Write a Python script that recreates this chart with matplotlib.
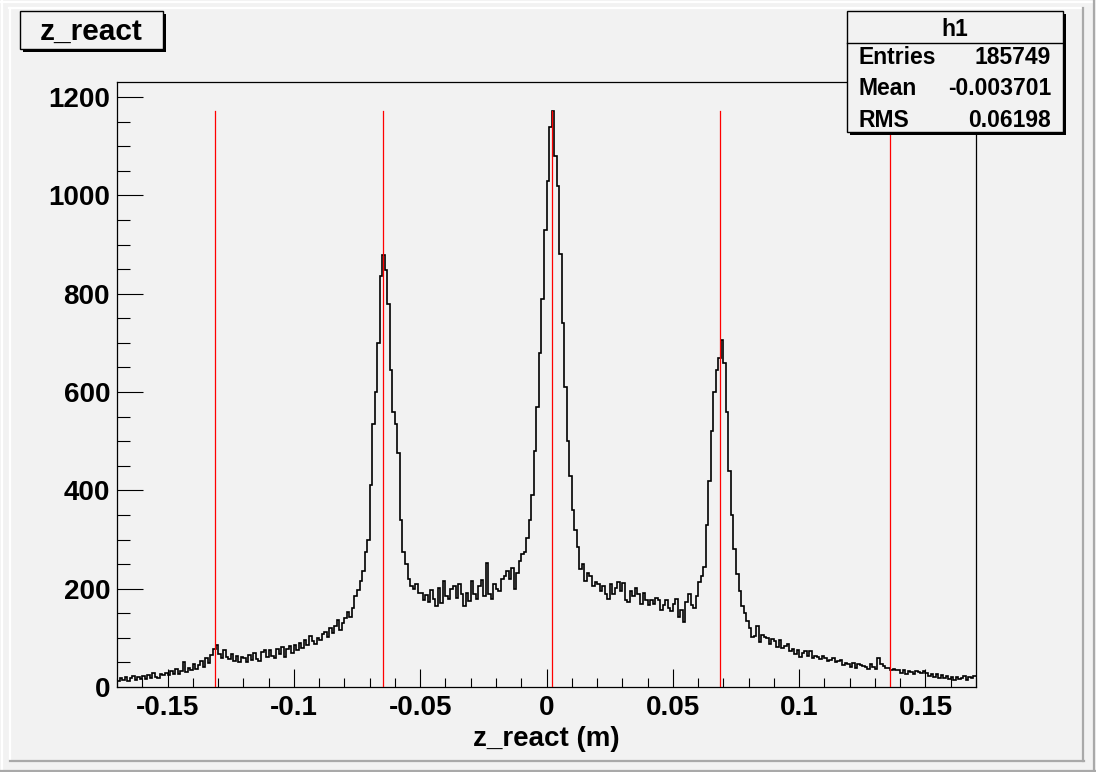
import numpy as np
import matplotlib
matplotlib.use("Agg")
import matplotlib.pyplot as plt
from matplotlib.ticker import MultipleLocator, FuncFormatter
from matplotlib.patches import Rectangle
from matplotlib.lines import Line2D

# histogram h1 : z_react, 340 bins from -0.17 to 0.17 (one row = 0.01 in z)
z_min, z_max = -0.17, 0.17
counts = [
    12, 18, 14, 20, 13, 19, 22, 15, 21, 17,            # -0.17
    23, 16, 25, 19, 28, 21, 18, 27, 24, 29,            # -0.16
    25, 33, 27, 36, 26, 32, 50, 30, 38, 34,            # -0.15
    47, 36, 44, 52, 40, 60, 48, 65, 78, 86,            # -0.14
    68, 60, 75, 62, 56, 68, 52, 64, 50, 62,            # -0.13
    58, 50, 65, 54, 70, 57, 52, 72, 76, 62,            # -0.12
    75, 64, 60, 78, 68, 82, 62, 77, 84, 70,            # -0.11
    85, 76, 90, 80, 96, 86, 104, 94, 88, 100,          # -0.10
    95, 108, 112, 102, 120, 110, 125, 136, 115, 130,   # -0.09
    140, 153, 143, 160, 185, 198, 215, 235, 275, 300,  # -0.08
    410, 535, 600, 700, 835, 878, 848, 780, 645, 560,  # -0.07
    535, 475, 340, 275, 250, 220, 205, 200, 210, 192,  # -0.06
    192, 176, 188, 172, 198, 180, 165, 202, 170, 215,  # -0.05
    186, 178, 200, 206, 182, 210, 190, 164, 192, 175,  # -0.04
    216, 190, 178, 205, 218, 186, 252, 190, 180, 210,  # -0.03
    200, 195, 220, 226, 236, 220, 242, 200, 232, 256,  # -0.02
    270, 275, 304, 340, 390, 480, 570, 680, 790, 930,  # -0.01
    1030, 1140, 1172, 1080, 1020, 880, 740, 610, 500, 430,  # 0.00
    360, 320, 285, 240, 250, 215, 232, 225, 206, 214,  # 0.01
    210, 196, 206, 190, 180, 210, 190, 202, 214, 196,  # 0.02
    212, 176, 172, 196, 186, 202, 190, 168, 192, 176,  # 0.03
    166, 176, 168, 182, 176, 156, 166, 176, 160, 154,  # 0.04
    168, 178, 142, 156, 132, 172, 190, 166, 160, 186,  # 0.05
    214, 225, 245, 330, 420, 520, 600, 645, 670, 705,  # 0.06
    660, 560, 440, 350, 280, 230, 195, 165, 150, 135,  # 0.07
    120, 102, 104, 124, 92, 106, 102, 100, 88, 98,     # 0.08
    94, 82, 96, 80, 84, 88, 74, 78, 68, 76,            # 0.09
    62, 70, 74, 63, 73, 60, 64, 61, 56, 64,            # 0.10
    60, 52, 55, 58, 51, 52, 55, 45, 48, 47,            # 0.11
    40, 48, 38, 46, 44, 43, 41, 37, 47, 40,            # 0.12
    36, 58, 46, 43, 38, 38, 35, 37, 34, 35,            # 0.13
    29, 35, 27, 33, 31, 26, 33, 31, 28, 32,            # 0.14
    28, 22, 27, 21, 26, 19, 24, 18, 22, 17,            # 0.15
    20, 15, 21, 16, 19, 22, 15, 21, 18, 23,            # 0.16
]

# red marker lines (z positions)
markers = [-0.1313, -0.0648, 0.0021, 0.0687, 0.1361]

stat_labels = ["Entries", "Mean", "RMS"]
stat_values = ["185749", "-0.003701", "0.06198"]

W, H = 1096, 772
bg = "#f2f2f2"
font = "Liberation Sans"
plt.rcParams["font.family"] = [font, "DejaVu Sans"]
plt.rcParams["axes.unicode_minus"] = False


def fx(x):
    return x / W


def fy(y):
    return 1 - y / H


fig = plt.figure(figsize=(W / 100, H / 100), dpi=100, facecolor=bg)

# canvas bevels
for (x0, y0, x1, y1, c) in [
    (0, 1.5, 1094, 1.5, "white"), (1.5, 0, 1.5, 771, "white"),
    (1094, 0, 1094, 771, "#a9a9a9"), (0, 771, 1096, 771, "#a9a9a9"),
    (9, 8, 1083, 8, "white"), (10, 8, 10, 761, "white"),
    (1083, 8, 1083, 761, "#a9a9a9"), (10, 761, 1084, 761, "#a9a9a9"),
]:
    fig.add_artist(Line2D([fx(x0), fx(x1)], [fy(y0), fy(y1)], color=c, lw=1.6,
                          transform=fig.transFigure))

ax = fig.add_axes([fx(117), fy(687), (976 - 117) / W, (687 - 82) / H])
ax.set_facecolor(bg)

counts = np.array(counts)
edges = np.linspace(z_min, z_max, len(counts) + 1)
ax.stairs(counts, edges, color="black", lw=1.2, baseline=None, zorder=2)

top = counts.max()
for m in markers:
    ax.plot([m, m], [0, top], color="red", lw=0.9, zorder=3)

ax.set_xlim(z_min, z_max)
ax.set_ylim(0, 1.05 * top)

ax.xaxis.set_major_locator(MultipleLocator(0.05))
ax.xaxis.set_minor_locator(MultipleLocator(0.01))
ax.yaxis.set_major_locator(MultipleLocator(200))
ax.yaxis.set_minor_locator(MultipleLocator(50))
ax.xaxis.set_major_formatter(FuncFormatter(lambda v, p: "%g" % round(v, 3) if abs(v) > 1e-9 else "0"))

ax.tick_params(axis="x", which="major", direction="in", length=13, width=0.8, pad=6,
               labelsize=20, top=False)
ax.tick_params(axis="x", which="minor", direction="in", length=6.5, width=0.8, top=False)
ax.tick_params(axis="y", which="major", direction="in", length=18.5, width=0.8, pad=5,
               labelsize=20, right=False)
ax.tick_params(axis="y", which="minor", direction="in", length=9.3, width=0.8, right=False)
for lab in ax.get_xticklabels() + ax.get_yticklabels():
    lab.set_fontweight("bold")
for s in ax.spines.values():
    s.set_linewidth(0.9)

fig.text(fx(546), fy(746), "z_react (m)", ha="center", va="baseline",
         fontsize=20, fontweight="bold")

# title box
fig.add_artist(Rectangle((fx(23), fy(52)), (163 - 20) / W, (52 - 14) / H,
                         transform=fig.transFigure, facecolor="black", edgecolor="none"))
fig.add_artist(Rectangle((fx(20), fy(49)), (163 - 20) / W, (49 - 11) / H,
                         transform=fig.transFigure, facecolor=bg, edgecolor="black", lw=1))
fig.text(fx(91), fy(39.5), "z_react", ha="center", va="baseline",
         fontsize=21.5, fontweight="bold")

# stats box
fig.add_artist(Rectangle((fx(850), fy(134.5)), (1063 - 847) / W, (132 - 11) / H,
                         transform=fig.transFigure, facecolor="black", edgecolor="none"))
fig.add_artist(Rectangle((fx(847), fy(132)), (1063 - 847) / W, (132 - 11) / H,
                         transform=fig.transFigure, facecolor=bg, edgecolor="black", lw=1))
fig.add_artist(Line2D([fx(847), fx(1063)], [fy(42.5), fy(42.5)], color="black", lw=1,
                      transform=fig.transFigure))
fig.text(fx(955), fy(36.5), "h1", ha="center", va="baseline", fontsize=16.5, fontweight="bold")
for i, (l, v) in enumerate(zip(stat_labels, stat_values)):
    yb = 64 + 31.3 * i
    fig.text(fx(859), fy(yb), l, ha="left", va="baseline", fontsize=16.5, fontweight="bold")
    fig.text(fx(1051), fy(yb), v, ha="right", va="baseline", fontsize=16.5, fontweight="bold")

fig.savefig("out.png", dpi=100, facecolor=bg)
